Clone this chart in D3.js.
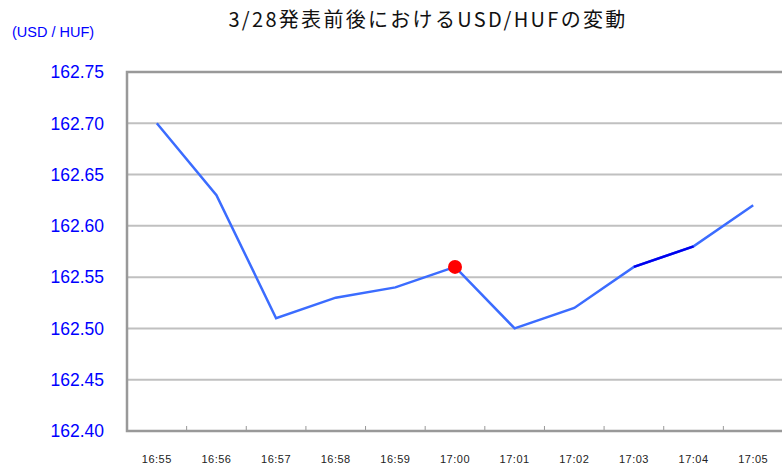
<!DOCTYPE html>
<html>
<head>
<meta charset="utf-8">
<script src="https://cdn.jsdelivr.net/npm/d3@7"></script>
<style>
  body { margin: 0; background: #fff; }
  svg { display: block; font-family: "Liberation Sans", Arial, sans-serif; }
</style>
</head>
<body>
<svg id="chart" width="782" height="467"></svg>
<script>
var times = ["16:55", "16:56", "16:57", "16:58", "16:59", "17:00", "17:01", "17:02", "17:03", "17:04", "17:05"];
var rates = [162.70, 162.63, 162.51, 162.53, 162.54, 162.56, 162.50, 162.52, 162.56, 162.58, 162.62];
var yTicks = [162.40, 162.45, 162.50, 162.55, 162.60, 162.65, 162.70, 162.75];
var markTime = "17:00";
var darkSeg = ["17:03", "17:04"];

var draw_chart = function() {
  let svg = d3.select("#chart");
  let plot_l = 127, plot_r = 783, plot_t = 72, plot_b = 431;

  let x = d3.scaleBand().domain(times).range([plot_l, plot_r]);
  let y = d3.scaleLinear().domain([162.40, 162.75]).range([plot_b, plot_t]);

  // grid lines
  svg.append("g").selectAll("line")
    .data(yTicks.filter(d => d > 162.401 && d < 162.749))
    .enter().append("line")
      .attr("x1", plot_l).attr("x2", plot_r)
      .attr("y1", d => y(d)).attr("y2", d => y(d))
      .attr("stroke", "#c0c0c0").attr("stroke-width", 2);

  // frame
  svg.append("path")
    .attr("d", "M" + plot_r + "," + plot_t + "H" + plot_l + "V" + plot_b + "H" + plot_r)
    .attr("fill", "none").attr("stroke", "#999").attr("stroke-width", 2.5);

  // x ticks at band boundaries, pointing up
  svg.append("g").selectAll("line")
    .data(times.slice(1))
    .enter().append("line")
      .attr("x1", d => x(d)).attr("x2", d => x(d))
      .attr("y1", plot_b).attr("y2", plot_b - 5)
      .attr("stroke", "#999").attr("stroke-width", 1);

  // y labels
  svg.append("g").selectAll("text")
    .data(yTicks)
    .enter().append("text")
      .attr("x", 104).attr("y", d => y(d))
      .attr("dy", "0.36em")
      .attr("text-anchor", "end")
      .attr("fill", "#0000ff")
      .attr("font-size", 17.5)
      .text(d => d.toFixed(2));

  // x labels
  svg.append("g").selectAll("text")
    .data(times)
    .enter().append("text")
      .attr("x", d => x(d) + x.bandwidth() / 2).attr("y", 463)
      .attr("text-anchor", "middle")
      .attr("fill", "#222")
      .attr("font-size", 11)
      .attr("letter-spacing", 0.5)
      .text(d => d);

  let cx = d => x(d) + x.bandwidth() / 2;
  let pts = times.map((t, i) => [cx(t), y(rates[i])]);

  svg.append("path")
    .attr("d", d3.line()(pts))
    .attr("fill", "none").attr("stroke", "#3b6cff").attr("stroke-width", 2.5);

  let i0 = times.indexOf(darkSeg[0]), i1 = times.indexOf(darkSeg[1]);
  svg.append("path")
    .attr("d", d3.line()([pts[i0], pts[i1]]))
    .attr("fill", "none").attr("stroke", "#0000ee").attr("stroke-width", 2.5);

  let mi = times.indexOf(markTime);
  svg.append("circle")
    .attr("cx", pts[mi][0]).attr("cy", pts[mi][1]).attr("r", 7)
    .attr("fill", "#ff0000");

  // titles
  svg.append("text")
    .attr("x", 428).attr("y", 27)
    .attr("text-anchor", "middle")
    .attr("font-size", 20)
    .attr("letter-spacing", 2.3)
    .attr("font-family", "'Noto Sans CJK JP', sans-serif")
    .attr("fill", "#111")
    .text("3/28発表前後におけるUSD/HUFの変動");

  svg.append("text")
    .attr("x", 12).attr("y", 37)
    .attr("font-size", 14.5)
    .attr("fill", "#0000ff")
    .text("(USD / HUF)");
};

draw_chart();
</script>
</body>
</html>
